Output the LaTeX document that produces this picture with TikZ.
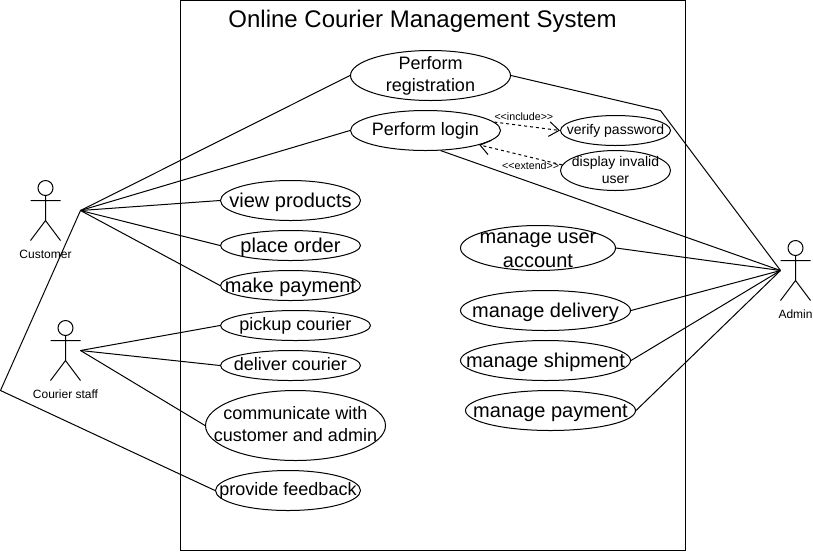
\documentclass[tikz,border=0pt]{standalone}
\usepackage{fontspec}
\setmainfont{Liberation Sans}
\usetikzlibrary{arrows.meta,shapes.geometric,positioning}
\newlength{\unitpx}
\setlength{\unitpx}{0.75pt}
\tikzset{
  case/.style n args={4}{ellipse,draw,inner sep=0pt,minimum width=#1\unitpx,minimum height=#2\unitpx,
    label={[align=center,font=\fontsize{#3}{16.5}\selectfont,inner sep=0pt,yshift={-0.5pt-(#3>14)*1pt}]center:\vphantom{gh}#4\vphantom{gh}}},
  stereo/.style={font=\fontsize{8}{9}\selectfont,inner sep=1pt},
  dep/.style={dash pattern=on 2.25pt off 2.25pt,-{Straight Barb[length=7.5pt,width=11pt]}},
  actor/.pic={
    \node[circle,draw,inner sep=0pt,minimum size=15\unitpx] (-head) at (0,0) {};
    \draw (-head) -- (0,32.5) (-15,12.5) -- (15,12.5) (-15,52.5) -- (0,32.5) -- (15,52.5);
    \node[font=\fontsize{9}{11}\selectfont,inner sep=0pt] (-name) at (0,66) {#1};
  }
}
\begin{document}
\begin{tikzpicture}[x=0.75pt,y=-0.75pt,line width=0.75pt,on grid]
        \useasboundingbox (-0.5,-0.5) rectangle (812.5,550.5);
        \node[draw,minimum width=505\unitpx,minimum height=550\unitpx,inner sep=0pt] (system) at (432.5,275) {};
        \node[font=\fontsize{18}{22}\selectfont] (title) at (422,21) {Online Courier Management System};

        % customer side
        \node[case={140}{40}{15}{view products}]      (view)     at (290,200) {};
        \node[case={140}{30}{15}{place order}]        (order)    [below=45\unitpx of view] {};
        \node[case={140}{30}{15}{make payment}]       (payment)  [below=40\unitpx of order] {};
        \node[case={150}{30}{13.5}{pickup courier}]   (pickup)   [below right=40\unitpx and 5\unitpx of payment] {};
        \node[case={140}{30}{13.5}{deliver courier}]  (deliver)  [below left=40\unitpx and 5\unitpx of pickup] {};
        \node[case={180}{70}{13.5}{communicate with\\customer and admin}] (talk) [below right=60\unitpx and 5\unitpx of deliver] {};
        \node[case={145}{40}{13.5}{provide feedback}] (feedback) [below left=65\unitpx and 7.5\unitpx of talk] {};

        % login part
        \node[case={160}{50}{13.5}{Perform\\registration}] (register) at (430,75) {};
        \node[case={150}{40}{13.5}{Perform login}]    (login)    [below left=55\unitpx and 5\unitpx of register] {};
        \node[case={110}{30}{10.5}{verify password}]  (verify)   [right=190\unitpx of login] {};
        \node[case={110}{40}{10.5}{display invalid\\[-3.75pt]user}] (invalid) [below=40\unitpx of verify] {};

        % admin side
        \node[case={155}{45}{15}{manage user\\[1.5pt]account}] (users)  at (537.5,247.5) {};
        \node[case={170}{40}{15}{manage delivery}]    (delivery) [below right=62.5\unitpx and 7.5\unitpx of users] {};
        \node[case={170}{40}{15}{manage shipment}]    (shipment) [below=50\unitpx of delivery] {};
        \node[case={170}{40}{15}{manage payment}]     (billing)  [below right=50\unitpx and 5\unitpx of shipment] {};

        \pic (customer) at (45,187.5) {actor=Customer};
        \pic (staff)    at (65,327.5) {actor=Courier staff};
        \pic (admin)    at (795,247.5) {actor=Admin};

        \coordinate (customer_hand) at (80,210);
        \coordinate (staff_hand)    at (80,350);
        \coordinate (admin_hand)    at (780,270);
        \coordinate (feedback_turn) at (0,390);
        \coordinate (register_turn) at (660,110);

        \path   (customer_hand) edge (register.west)
                (customer_hand) edge (login.west)
                (customer_hand) edge (view.west)
                (customer_hand) edge (order.west)
                (customer_hand) edge (payment.west)
                (staff_hand) edge (pickup.west)
                (staff_hand) edge (deliver.west)
                (staff_hand) edge (talk.west)
                (login.-53) edge (admin_hand)
                (users.east) edge (admin_hand)
                (delivery.east) edge (admin_hand)
                (shipment.east) edge (admin_hand)
                (billing.east) edge (admin_hand);
        \draw (customer_hand) -- (feedback_turn) -- (feedback.west);
        \draw (register.east) -- (register_turn) -- (admin_hand);

        \path   (login.7) edge[dep] node [stereo,above,pos=0.45,yshift=2.25pt] {<{}<include>{}>} (verify.west)
                (invalid.174) edge[dep] node [stereo,below,pos=0.38,yshift=-2.25pt] {<{}<extend>{}>} (login.-15);
\end{tikzpicture}
\end{document}
